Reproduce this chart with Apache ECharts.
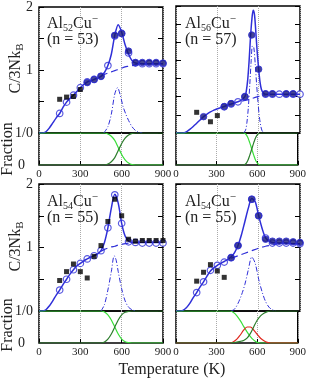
<!DOCTYPE html>
<html>
<head>
<meta charset="utf-8">
<script src="https://cdn.jsdelivr.net/npm/echarts@6/dist/echarts.min.js"></script>
<style>
html, body { margin: 0; padding: 0; background: #fff; }
#main { width: 309px; height: 378px; }
</style>
</head>
<body>
<div id="main"></div>
<script>
var FONT = 'Liberation Serif';
var BLUE = '#2f2fd8';
var NAVY = '#16167a';
var LGREEN = '#3ade3a';
var DGREEN = '#2c7d2c';
var RED = '#e0281e';

var pointT = [150, 200, 250, 300, 350, 400, 450, 500, 550, 600, 650, 700, 750, 800, 850, 900];

// Al52Cu- (n = 53)
var open52   = [0.31, 0.49, 0.60, 0.72, 0.81, 0.85, 0.90, 1.07, 1.54, 1.58, 1.27, 1.11, 1.10, 1.10, 1.10, 1.10];
var filled52 = [null, null, null, null, 0.80, 0.85, 0.90, null, 1.55, 1.58, 1.30, 1.12, 1.12, 1.12, 1.12, 1.11];
var square52 = [0.535, 0.57, 0.58, 0.69, null, null, null, null, null, null, null, null, null, null, null, null];
var fitT52 = [0, 25, 50, 75, 100, 125, 150, 175, 200, 225, 250, 275, 300, 325, 350, 375, 400, 425, 450, 475, 500, 525, 550, 575, 600, 625, 650, 675, 700, 750, 800, 850, 900];
var fit52  = [0, 0, 0.02, 0.08, 0.16, 0.24, 0.31, 0.41, 0.49, 0.55, 0.60, 0.66, 0.72, 0.77, 0.81, 0.83, 0.85, 0.87, 0.90, 0.96, 1.07, 1.25, 1.55, 1.72, 1.60, 1.40, 1.25, 1.15, 1.11, 1.10, 1.10, 1.10, 1.10];
var baseT52 = [450, 475, 500, 525, 550, 575, 600, 625, 650, 675, 700, 750, 800, 900];
var base52  = [0.90, 0.93, 0.95, 0.97, 0.99, 1.01, 1.03, 1.05, 1.06, 1.07, 1.08, 1.09, 1.10, 1.10];
var peakT52 = [470, 500, 525, 550, 570, 590, 610, 630, 650, 675, 700, 725, 750];
var peak52  = [0, 0.10, 0.30, 0.62, 0.72, 0.60, 0.42, 0.30, 0.20, 0.10, 0.04, 0.01, 0];
var fracT52 = [0, 475, 500, 525, 550, 575, 600, 625, 650, 675, 700, 900];
var solidFrac52  = [1, 1, 0.97, 0.90, 0.77, 0.55, 0.33, 0.16, 0.06, 0.01, 0, 0];
var liquidFrac52 = [0, 0, 0.03, 0.10, 0.23, 0.45, 0.67, 0.84, 0.94, 0.99, 1, 1];

// Al56Cu- (n = 57)
var open56   = [null, null, null, null, 0.72, 0.80, 0.86, 1.00, null, null, 1.07, 1.07, 1.07, 1.07, 1.07, 1.07];
var filled56 = [null, 0.45, null, null, 0.73, 0.81, null, 1.00, 2.70, 1.76, 1.08, 1.08, null, 1.08, 1.08, null];
var square56 = [0.57, null, 0.31, 0.48, null, null, null, null, null, null, null, null, null, null, null, null];
var fitT56 = [0, 50, 75, 100, 125, 150, 175, 200, 225, 250, 275, 300, 325, 350, 375, 400, 425, 450, 475, 500, 510, 520, 530, 540, 550, 560, 570, 580, 590, 600, 610, 620, 635, 650, 700, 800, 900];
var fit56  = [0, 0, 0.03, 0.10, 0.18, 0.27, 0.36, 0.45, 0.52, 0.58, 0.63, 0.67, 0.70, 0.73, 0.77, 0.80, 0.83, 0.86, 0.91, 1.00, 1.15, 1.45, 1.95, 2.60, 3.10, 3.38, 3.25, 2.75, 2.20, 1.76, 1.40, 1.20, 1.10, 1.07, 1.07, 1.07, 1.07];
var baseT56 = [480, 500, 525, 550, 575, 600, 625, 650, 700];
var base56  = [0.88, 0.90, 0.92, 0.95, 0.98, 1.01, 1.04, 1.06, 1.07];
var peakT56 = [490, 505, 515, 525, 535, 545, 555, 565, 575, 585, 595, 605, 615, 625, 640];
var peak56  = [0, 0.08, 0.30, 0.70, 1.30, 1.95, 2.40, 2.35, 1.90, 1.35, 0.85, 0.45, 0.20, 0.06, 0];
var fracT56 = [0, 500, 515, 530, 545, 560, 575, 590, 605, 620, 900];
var solidFrac56  = [1, 1, 0.97, 0.87, 0.70, 0.50, 0.30, 0.13, 0.04, 0, 0];
var liquidFrac56 = [0, 0, 0.03, 0.13, 0.30, 0.50, 0.70, 0.87, 0.96, 1, 1];

// Al54Cu- (n = 55), left
var open54a   = [0.33, 0.50, 0.65, 0.75, 0.82, 0.87, 0.95, 1.31, 1.83, 1.38, 1.09, 1.08, 1.07, 1.07, 1.07, 1.07];
var filled54a = [null, null, null, null, null, null, null, null, null, null, null, null, null, null, null, null];
var square54a = [0.48, 0.62, 0.74, 0.62, 0.52, 0.86, 1.03, 1.41, 1.76, 1.50, 1.13, 1.10, 1.11, 1.11, 1.11, 1.11];
var fitT54a = [0, 25, 50, 75, 100, 125, 150, 175, 200, 225, 250, 275, 300, 325, 350, 375, 400, 425, 450, 475, 500, 525, 550, 575, 600, 625, 650, 675, 700, 750, 800, 850, 900];
var fit54a  = [0, 0, 0.02, 0.08, 0.16, 0.25, 0.33, 0.42, 0.50, 0.58, 0.65, 0.71, 0.75, 0.79, 0.82, 0.85, 0.87, 0.90, 0.95, 1.08, 1.31, 1.62, 1.84, 1.70, 1.38, 1.18, 1.10, 1.08, 1.08, 1.08, 1.08, 1.08, 1.08];
var baseT54a = [450, 475, 500, 525, 550, 575, 600, 650, 700, 750, 900];
var base54a  = [0.94, 0.97, 0.99, 1.01, 1.02, 1.04, 1.05, 1.07, 1.08, 1.08, 1.08];
var peakT54a = [450, 475, 500, 525, 546, 560, 575, 600, 625, 650, 675, 700];
var peak54a  = [0, 0.10, 0.33, 0.62, 0.87, 0.80, 0.62, 0.35, 0.16, 0.06, 0.02, 0];
var fracT54a = [0, 450, 475, 500, 525, 550, 575, 600, 625, 650, 675, 900];
var solidFrac54a  = [1, 1, 0.97, 0.88, 0.72, 0.50, 0.28, 0.12, 0.04, 0.01, 0, 0];
var liquidFrac54a = [0, 0, 0.03, 0.12, 0.28, 0.50, 0.72, 0.88, 0.96, 0.99, 1, 1];

// Al54Cu- (n = 55), right, three phases
var open54b   = [0.29, 0.46, 0.64, 0.72, 0.77, 0.84, 1.03, null, 1.76, 1.50, 1.15, 1.07, 1.07, 1.07, 1.07, 1.06];
var filled54b = [null, null, null, null, null, 0.84, 1.03, null, 1.76, 1.50, 1.13, 1.10, 1.10, 1.10, 1.09, 1.08];
var square54b = [0.47, 0.61, 0.73, 0.63, 0.53, null, null, null, null, null, null, null, null, null, null, null];
var fitT54b = [0, 25, 50, 75, 100, 125, 150, 175, 200, 225, 250, 275, 300, 325, 350, 375, 400, 425, 450, 475, 500, 525, 550, 575, 600, 625, 650, 675, 700, 750, 800, 850, 900];
var fit54b  = [0, 0, 0.01, 0.05, 0.12, 0.21, 0.29, 0.38, 0.46, 0.55, 0.63, 0.68, 0.72, 0.75, 0.78, 0.81, 0.85, 0.92, 1.03, 1.20, 1.41, 1.62, 1.77, 1.72, 1.50, 1.30, 1.15, 1.10, 1.08, 1.07, 1.07, 1.06, 1.06];
var baseT54b = [400, 450, 500, 550, 600, 650, 700, 750, 800, 900];
var base54b  = [0.83, 0.87, 0.91, 0.95, 0.99, 1.02, 1.04, 1.06, 1.06, 1.06];
var peakT54b = [400, 425, 450, 475, 500, 525, 550, 575, 600, 625, 650, 675, 700, 725];
var peak54b  = [0, 0.03, 0.12, 0.25, 0.42, 0.65, 0.85, 0.75, 0.50, 0.30, 0.15, 0.06, 0.02, 0];
var fracT54b = [0, 400, 425, 450, 475, 500, 525, 550, 575, 600, 625, 650, 675, 700, 900];
var solidFrac54b  = [1, 1, 0.95, 0.85, 0.70, 0.52, 0.35, 0.20, 0.09, 0.02, 0, 0, 0, 0, 0];
var midFrac54b    = [0, 0, 0.04, 0.12, 0.25, 0.40, 0.50, 0.50, 0.40, 0.27, 0.15, 0.07, 0.02, 0, 0];
var liquidFrac54b = [0, 0, 0.01, 0.03, 0.05, 0.08, 0.15, 0.30, 0.51, 0.71, 0.85, 0.93, 0.98, 1, 1];

var panels = [
    {sub: '52', n: '53', left: 39, top: 6, ymax: 2, labels: true,
     open: open52, filled: filled52, square: square52, fit: [fitT52, fit52], base: [baseT52, base52], peak: [peakT52, peak52],
     fracT: fracT52, solid: solidFrac52, mid: null, liquid: liquidFrac52},
    {sub: '56', n: '57', left: 176, top: 6, ymax: 3.5, labels: false,
     open: open56, filled: filled56, square: square56, fit: [fitT56, fit56], base: [baseT56, base56], peak: [peakT56, peak56],
     fracT: fracT56, solid: solidFrac56, mid: null, liquid: liquidFrac56},
    {sub: '54', n: '55', left: 39, top: 184, ymax: 2, labels: true,
     open: open54a, filled: filled54a, square: square54a, fit: [fitT54a, fit54a], base: [baseT54a, base54a], peak: [peakT54a, peak54a],
     fracT: fracT54a, solid: solidFrac54a, mid: null, liquid: liquidFrac54a},
    {sub: '54', n: '55', left: 176, top: 184, ymax: 2, labels: false,
     open: open54b, filled: filled54b, square: square54b, fit: [fitT54b, fit54b], base: [baseT54b, base54b], peak: [peakT54b, peak54b],
     fracT: fracT54b, solid: solidFrac54b, mid: midFrac54b, liquid: liquidFrac54b}
];

function zip(xs, ys) {
    var out = [];
    for (var i = 0; i < xs.length; i++) {
        if (ys[i] != null) out.push([xs[i], ys[i]]);
    }
    return out;
}

var W = 124, HC = 127, HF = 32;
var grids = [], xAxes = [], yAxes = [], series = [], texts = [];

function lineSeries(xi, yi, data, color, width, type, z) {
    return {
        type: 'line', xAxisIndex: xi, yAxisIndex: yi, data: data,
        showSymbol: false, symbol: 'none', smooth: 0.3, silent: true, z: z,
        lineStyle: {color: color, width: width, type: type}
    };
}

for (var i = 0; i < panels.length; i++) {
    var p = panels[i];
    grids.push({left: p.left, top: p.top, width: W, height: HC, show: true, borderColor: '#000', borderWidth: 1.5});
    grids.push({left: p.left, top: p.top + HC, width: W, height: HF, show: true, borderColor: '#000', borderWidth: 1.5});

    var split = {show: true, lineStyle: {type: 'dotted', color: '#aaa', width: 1}};
    xAxes.push({gridIndex: 2 * i, type: 'value', min: 0, max: 900, interval: 300,
        axisLine: {show: false}, axisTick: {show: false}, axisLabel: {show: false}, splitLine: split});
    xAxes.push({gridIndex: 2 * i + 1, type: 'value', min: 0, max: 900, interval: 300,
        axisLine: {show: false},
        axisTick: {show: true, inside: true, length: 4, lineStyle: {color: '#000', width: 1}},
        axisLabel: {show: true, fontFamily: FONT, fontSize: 11, color: '#222', margin: 4},
        splitLine: split});

    var lbl = p.labels;
    yAxes.push({gridIndex: 2 * i, type: 'value', min: 0, max: p.ymax, interval: 0.5,
        axisLine: {show: false},
        axisTick: {show: true, inside: true, length: 5, lineStyle: {color: '#000', width: 1}},
        axisLabel: {show: lbl, fontFamily: FONT, fontSize: 14, color: '#222', margin: 6,
            formatter: function (v) { return v === 0 ? '1/0' : (v % 1 === 0 ? String(v) : ''); }},
        splitLine: {show: false}});
    yAxes.push({gridIndex: 2 * i, type: 'value', position: 'right', min: 0, max: p.ymax, interval: 0.5,
        axisLine: {show: false},
        axisTick: {show: true, inside: true, length: 5, lineStyle: {color: '#000', width: 1}},
        axisLabel: {show: false}, splitLine: {show: false}});
    yAxes.push({gridIndex: 2 * i + 1, type: 'value', min: 0, max: 1, interval: 1,
        axisLine: {show: false}, axisTick: {show: false},
        axisLabel: {show: lbl, fontFamily: FONT, fontSize: 14, color: '#222', margin: 14,
            formatter: function (v) { return v === 0 ? '0' : ''; }},
        splitLine: {show: false}});

    var xc = 2 * i, yc = 3 * i, xf = 2 * i + 1, yf = 3 * i + 2;

    series.push({type: 'scatter', xAxisIndex: xc, yAxisIndex: yc, data: zip(pointT, p.open),
        symbol: 'circle', symbolSize: 6.5, silent: true, z: 2,
        itemStyle: {color: '#fff', borderColor: BLUE, borderWidth: 1.2}});
    series.push(lineSeries(xc, yc, zip(p.fit[0], p.fit[1]), BLUE, 1.5, 'solid', 3));
    series.push(lineSeries(xc, yc, zip(p.base[0], p.base[1]), BLUE, 1.2, [7, 4], 3));
    series.push(lineSeries(xc, yc, zip(p.peak[0], p.peak[1]), BLUE, 1, [5, 2, 1, 2], 3));
    series.push({type: 'scatter', xAxisIndex: xc, yAxisIndex: yc, data: zip(pointT, p.filled),
        symbol: 'circle', symbolSize: 6.5, silent: true, z: 4,
        itemStyle: {color: NAVY, borderColor: BLUE, borderWidth: 1}});
    series.push({type: 'scatter', xAxisIndex: xc, yAxisIndex: yc, data: zip(pointT, p.square),
        symbol: 'rect', symbolSize: 5, silent: true, z: 5,
        itemStyle: {color: '#000'}});

    series.push(lineSeries(xf, yf, zip(p.fracT, p.solid), LGREEN, 1.2, 'solid', 3));
    if (p.mid) series.push(lineSeries(xf, yf, zip(p.fracT, p.mid), RED, 1.2, 'solid', 3));
    series.push(lineSeries(xf, yf, zip(p.fracT, p.liquid), DGREEN, 1.2, 'solid', 3));

    var tx = i % 2 === 0 ? p.left + 8 : p.left + 9, ty = p.top + 17.5;
    var rich = {
        a: {fontFamily: FONT, fontSize: 16, lineHeight: 20, fill: '#222', color: '#222'},
        s: {fontFamily: FONT, fontSize: 10, lineHeight: 10, verticalAlign: 'bottom', fill: '#222', color: '#222'},
        p: {fontFamily: FONT, fontSize: 11, lineHeight: 10, verticalAlign: 'top', fill: '#222', color: '#222'}
    };
    texts.push({type: 'text', x: tx, y: ty, z: 10,
        style: {text: '{a|Al}{s|' + p.sub + '}{a|Cu}{p|\u2212}', rich: rich, verticalAlign: 'middle', align: 'left'}});
    texts.push({type: 'text', x: tx, y: ty + 16.5, z: 10,
        style: {text: '(n = ' + p.n + ')', fontFamily: FONT, fontSize: 16, fill: '#222', verticalAlign: 'middle', align: 'left'}});
}

var nameRich = {
    a: {fontFamily: FONT, fontSize: 16, lineHeight: 20, fill: '#222', color: '#222'},
    s: {fontFamily: FONT, fontSize: 11, lineHeight: 10, verticalAlign: 'bottom', fill: '#222', color: '#222'}
};
[[68.5, 149], [246.5, 325]].forEach(function (pos) {
    texts.push({type: 'text', x: 15.5, y: pos[0], rotation: Math.PI / 2,
        style: {text: '{a|C/3Nk}{s|B}', rich: nameRich, align: 'center', verticalAlign: 'middle'}});
    texts.push({type: 'text', x: 7.5, y: pos[1], rotation: Math.PI / 2,
        style: {text: 'Fraction', fontFamily: FONT, fontSize: 16, fill: '#222', align: 'center', verticalAlign: 'middle'}});
});
texts.push({type: 'text', x: 172, y: 370,
    style: {text: 'Temperature (K)', fontFamily: FONT, fontSize: 16, fill: '#222', align: 'center', verticalAlign: 'middle'}});

var chart = echarts.init(document.getElementById('main'));
chart.setOption({
    animation: false,
    backgroundColor: '#fff',
    grid: grids,
    xAxis: xAxes,
    yAxis: yAxes,
    series: series,
    graphic: texts
});
</script>
</body>
</html>
